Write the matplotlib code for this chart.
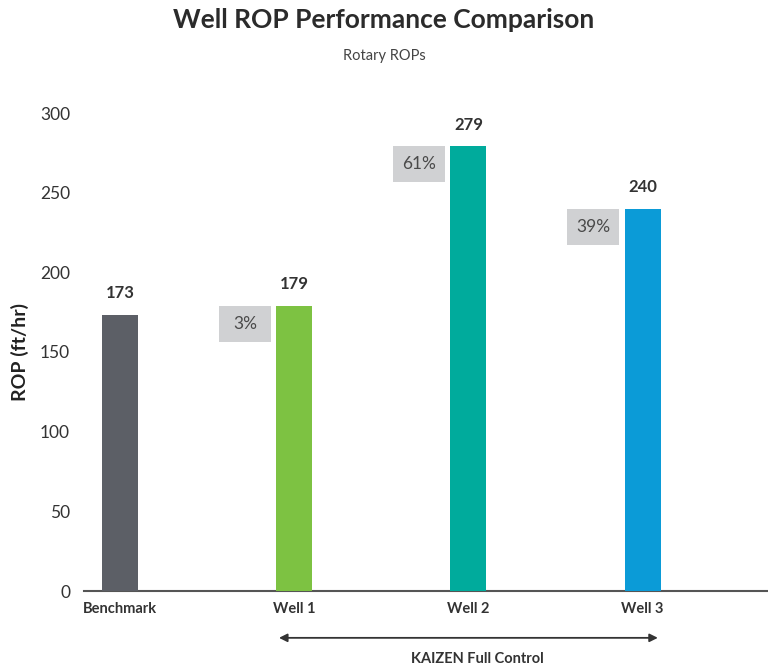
import matplotlib.pyplot as plt

categories = ["Benchmark", "Well 1", "Well 2", "Well 3"]
rop = [173, 179, 279, 240]
gains = [None, "3%", "61%", "39%"]
colors = ["#5c5f66", "#7dc242", "#00ab9c", "#0b9bd7"]

plt.rcParams['font.family'] = ['Lato', 'DejaVu Sans']

fig = plt.figure(figsize=(7.68, 6.68), dpi=100)
ax = fig.add_axes([84 / 768, 77 / 668, 684 / 768, 478 / 668])

x = list(range(len(categories)))
bw = 0.207
ax.bar(x, rop, width=bw, color=colors, zorder=3)

for i, v in enumerate(rop):
    ax.annotate(str(v), (i, v), xytext=(0, 10), textcoords='offset points',
                ha='center', va='bottom', fontsize=12, fontweight='bold', color='#333333')
    if gains[i]:
        # gray box sitting just left of the bar, top aligned with bar top
        bx = i - bw / 2 - 0.03 - 0.30
        ax.bar(bx, 22.6, width=0.30, bottom=v - 22.6, align='edge', color='#d0d1d3', zorder=2)
        ax.text(bx + 0.15, v - 11.3, gains[i], ha='center', va='center',
                fontsize=12.5, color='#4a4a4a')

ax.set_xlim(-bw, 3.72)
ax.set_ylim(0, 300)
ax.set_yticks([0, 50, 100, 150, 200, 250, 300])
ax.set_xticks(x)
ax.set_xticklabels(categories, fontsize=10.5, fontweight='bold', color='#333333')
ax.tick_params(axis='both', length=0)
ax.tick_params(axis='y', labelsize=12.5, labelcolor='#333333', pad=10)
ax.tick_params(axis='x', pad=8)
for s in ['top', 'right', 'left']:
    ax.spines[s].set_visible(False)
ax.spines['bottom'].set_color('#555555')
ax.spines['bottom'].set_linewidth(1.5)

ax.set_ylabel("ROP (ft/hr)", fontsize=14, fontweight='bold', color='#222222', labelpad=8)

tr = ax.get_xaxis_transform()
ax.annotate("", xy=(1 - bw / 2, -0.098), xytext=(3 + bw / 2, -0.098), xycoords=tr, textcoords=tr,
            arrowprops=dict(arrowstyle='<|-|>', color='#333333', lw=1.3, mutation_scale=12),
            annotation_clip=False)
ax.text(2.05, -0.142, "KAIZEN Full Control", transform=tr, ha='center', va='center',
        fontsize=10.5, fontweight='bold', color='#333333')

fig.text(0.5, 1 - 20 / 668, "Well ROP Performance Comparison", ha='center', va='center',
         fontsize=19, fontweight='bold', color='#2b2b2b')
fig.text(0.5, 1 - 56 / 668, "Rotary ROPs", ha='center', va='center', fontsize=10.5, color='#444444')

fig.savefig("out.png", dpi=100)
